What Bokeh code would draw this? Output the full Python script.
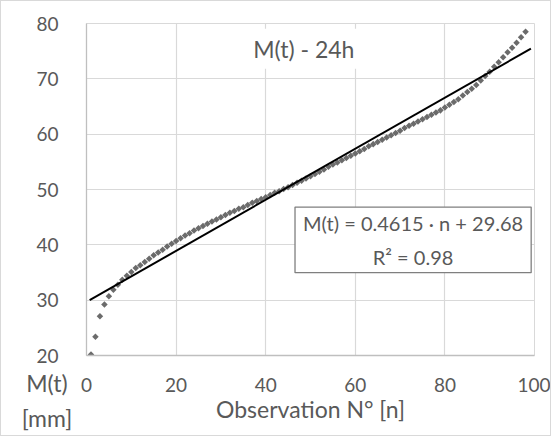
from bokeh.plotting import figure
from bokeh.models import Label, FixedTicker, Range1d, ColumnDataSource, Div
from bokeh.layouts import column
from bokeh.embed import file_html
from bokeh.resources import INLINE
import numpy as np

# ---- data ----
obs_n = list(range(1, 99))
m_t = [20.2, 23.4, 27.1, 29.2, 30.7, 31.9, 32.8, 33.7, 34.4, 35.1,
       35.8, 36.3, 36.9, 37.5, 38.1, 38.6, 39.1, 39.7, 40.2, 40.7,
       41.2, 41.7, 42.1, 42.6, 43.0, 43.4, 43.8, 44.2, 44.6, 45.0,
       45.4, 45.8, 46.1, 46.5, 46.8, 47.2, 47.6, 47.9, 48.3, 48.6,
       49.0, 49.4, 49.7, 50.1, 50.4, 50.8, 51.2, 51.6, 52.0, 52.4,
       52.8, 53.2, 53.6, 54.1, 54.5, 54.9, 55.3, 55.7, 56.1, 56.5,
       56.9, 57.3, 57.8, 58.2, 58.6, 59.0, 59.4, 59.8, 60.2, 60.6,
       61.1, 61.5, 61.9, 62.3, 62.7, 63.1, 63.5, 63.9, 64.3, 64.8,
       65.3, 65.8, 66.3, 67.0, 67.6, 68.2, 68.9, 69.7, 70.5, 71.3,
       72.2, 73.0, 73.9, 74.8, 75.6, 76.5, 77.5, 78.5]
trend_slope = 0.4615
trend_intercept = 29.68
trend_n = [0.7, 99.2]
x_ticks = [0, 20, 40, 60, 80, 100]
y_ticks = [20, 30, 40, 50, 60, 70, 80]
chart_title = "M(t) - 24h"
x_title = "Observation N° [n]"
y_title_lines = ["M(t)", "[mm]"]
eq_text = "M(t) = 0.4615 · n + 29.68\nR² = 0.98"

FONT = "Lato"
TXT = "#595959"

p = figure(frame_width=446, frame_height=330,
           min_border_left=85, min_border_right=18,
           min_border_top=22, min_border_bottom=82,
           x_range=Range1d(0, 100), y_range=Range1d(20, 80),
           output_backend="svg", toolbar_location=None)
p.styles = {"border": "1px solid #d9d9d9"}

p.outline_line_color = "#d9d9d9"
p.outline_line_width = 1

for ax in (p.xaxis[0], p.yaxis[0]):
    ax.axis_line_color = "#bfbfbf"
    ax.axis_line_width = 1.3
    ax.major_tick_line_color = None
    ax.minor_tick_line_color = None
    ax.major_label_text_font = FONT
    ax.major_label_text_font_size = "19px"
    ax.major_label_text_color = TXT

p.xaxis.ticker = FixedTicker(ticks=x_ticks)
p.yaxis.ticker = FixedTicker(ticks=y_ticks)
p.xaxis.major_label_standoff = 16
p.yaxis.major_label_standoff = 22
p.xaxis.axis_label = x_title
p.xaxis.axis_label_text_font = FONT
p.xaxis.axis_label_text_font_size = "23px"
p.xaxis.axis_label_text_font_style = "normal"
p.xaxis.axis_label_text_color = TXT
p.xaxis.axis_label_standoff = 0

p.xgrid.ticker = FixedTicker(ticks=x_ticks)
p.ygrid.ticker = FixedTicker(ticks=y_ticks)
p.grid.grid_line_color = "#d9d9d9"
p.grid.grid_line_width = 1.2

src = ColumnDataSource(dict(n=obs_n, m=m_t))
p.scatter(x="n", y="m", source=src, marker="square", size=4.6,
          angle=np.pi / 4, fill_color="#6b6b6b", line_color=None)

trend_y = [trend_slope * v + trend_intercept for v in trend_n]
p.line(trend_n, trend_y, line_color="black", line_width=2)

# chart title inside the plot area
p.add_layout(Label(x=48.5, y=75.45, text=chart_title, text_font=FONT,
                   text_font_size="23px", text_color=TXT,
                   text_align="center", text_baseline="middle",
                   background_fill_color="white",
                   padding=dict(left=10, right=10, top=6, bottom=6)))

# equation box
p.add_layout(Label(x=72.9, y=40.9, text=eq_text, text_font=FONT,
                   text_font_size="20px", text_color=TXT,
                   text_align="center", text_baseline="middle",
                   text_line_height=1.4,
                   background_fill_color="white",
                   border_line_color="#7f7f7f", border_line_width=1.3,
                   padding=dict(left=8, right=8, top=4, bottom=4)))

# y-axis title at bottom-left, as an overlapping Div
ylab = Div(text="<br>".join(y_title_lines), width=56, height=68,
           margin=(-70, 0, 0, 19),
           styles={"font-family": FONT, "font-size": "23px",
                   "color": TXT, "line-height": "35px",
                   "text-align": "center"})

layout = column(p, ylab, spacing=0)
open("out.html", "w").write(file_html(layout, INLINE))
